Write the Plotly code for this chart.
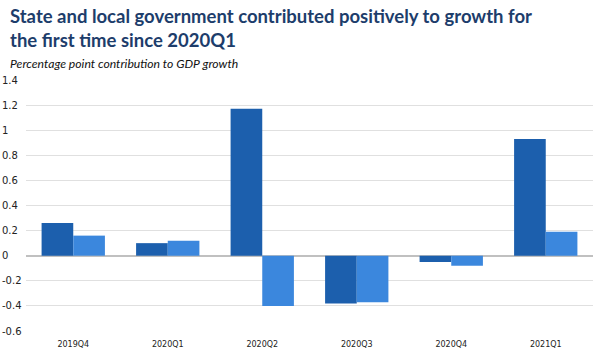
import plotly.graph_objects as go

categories = ["2019Q4", "2020Q1", "2020Q2", "2020Q3", "2020Q4", "2021Q1"]
series_a = [0.26, 0.10, 1.17, -0.38, -0.05, 0.93]
series_b = [0.16, 0.12, -0.40, -0.37, -0.08, 0.19]
y_ticks = [1.4, 1.2, 1.0, 0.8, 0.6, 0.4, 0.2, 0, -0.2, -0.4, -0.6]
y_tick_labels = ["1.4", "1.2", "1", "0.8", "0.6", "0.4", "0.2", "0", "-0.2", "-0.4", "-0.6"]

W, H = 600, 353
ml, mr, mt, mb = 26, 7, 80, 22
plot_w = W - ml - mr
plot_h = H - mt - mb

fig = go.Figure()
fig.add_trace(go.Bar(x=categories, y=series_a, marker=dict(color="#1c5fad", line=dict(width=0)), name="State and local"))
fig.add_trace(go.Bar(x=categories, y=series_b, marker=dict(color="#3b87dd", line=dict(width=0)), name="Other"))

annotations = []
for v, t in zip(y_ticks, y_tick_labels):
    annotations.append(dict(x=-ml / plot_w, xref="paper", y=v, yref="y", text=t,
                            showarrow=False, xanchor="left", yanchor="middle",
                            font=dict(family="DejaVu Sans", size=10, color="#222")))

title_x = (8 - ml) / plot_w
annotations.append(dict(x=title_x, xref="paper", y=1 + (mt - 3) / plot_h, yref="paper",
                        xanchor="left", yanchor="top", align="left", showarrow=False,
                        text="<b>State and local government contributed positively to growth for<br>the first time since 2020Q1</b>",
                        font=dict(family="Lato", size=18.5, color="#1d3d6b")))
annotations.append(dict(x=title_x, xref="paper", y=1 + (mt - 54) / plot_h, yref="paper",
                        xanchor="left", yanchor="top", align="left", showarrow=False,
                        text="<i>Percentage point contribution to GDP growth</i>",
                        font=dict(family="Lato", size=12.2, color="#111")))

fig.update_layout(
    width=W, height=H,
    margin=dict(l=ml, r=mr, t=mt, b=mb, autoexpand=False),
    paper_bgcolor="white", plot_bgcolor="white",
    barmode="group", bargap=0.33, bargroupgap=0,
    showlegend=False,
    annotations=annotations,
    xaxis=dict(showgrid=False, showline=False, ticks="", ticklabelstandoff=7, automargin=False,
               tickfont=dict(family="DejaVu Sans", size=8, color="#222")),
    yaxis=dict(range=[-0.6, 1.4], tickvals=y_ticks, showticklabels=False, automargin=False,
               showgrid=True, gridcolor="#e0e0e0", gridwidth=1,
               zeroline=True, zerolinecolor="#c0c0c0", zerolinewidth=2),
)

fig.write_html("out.html")
